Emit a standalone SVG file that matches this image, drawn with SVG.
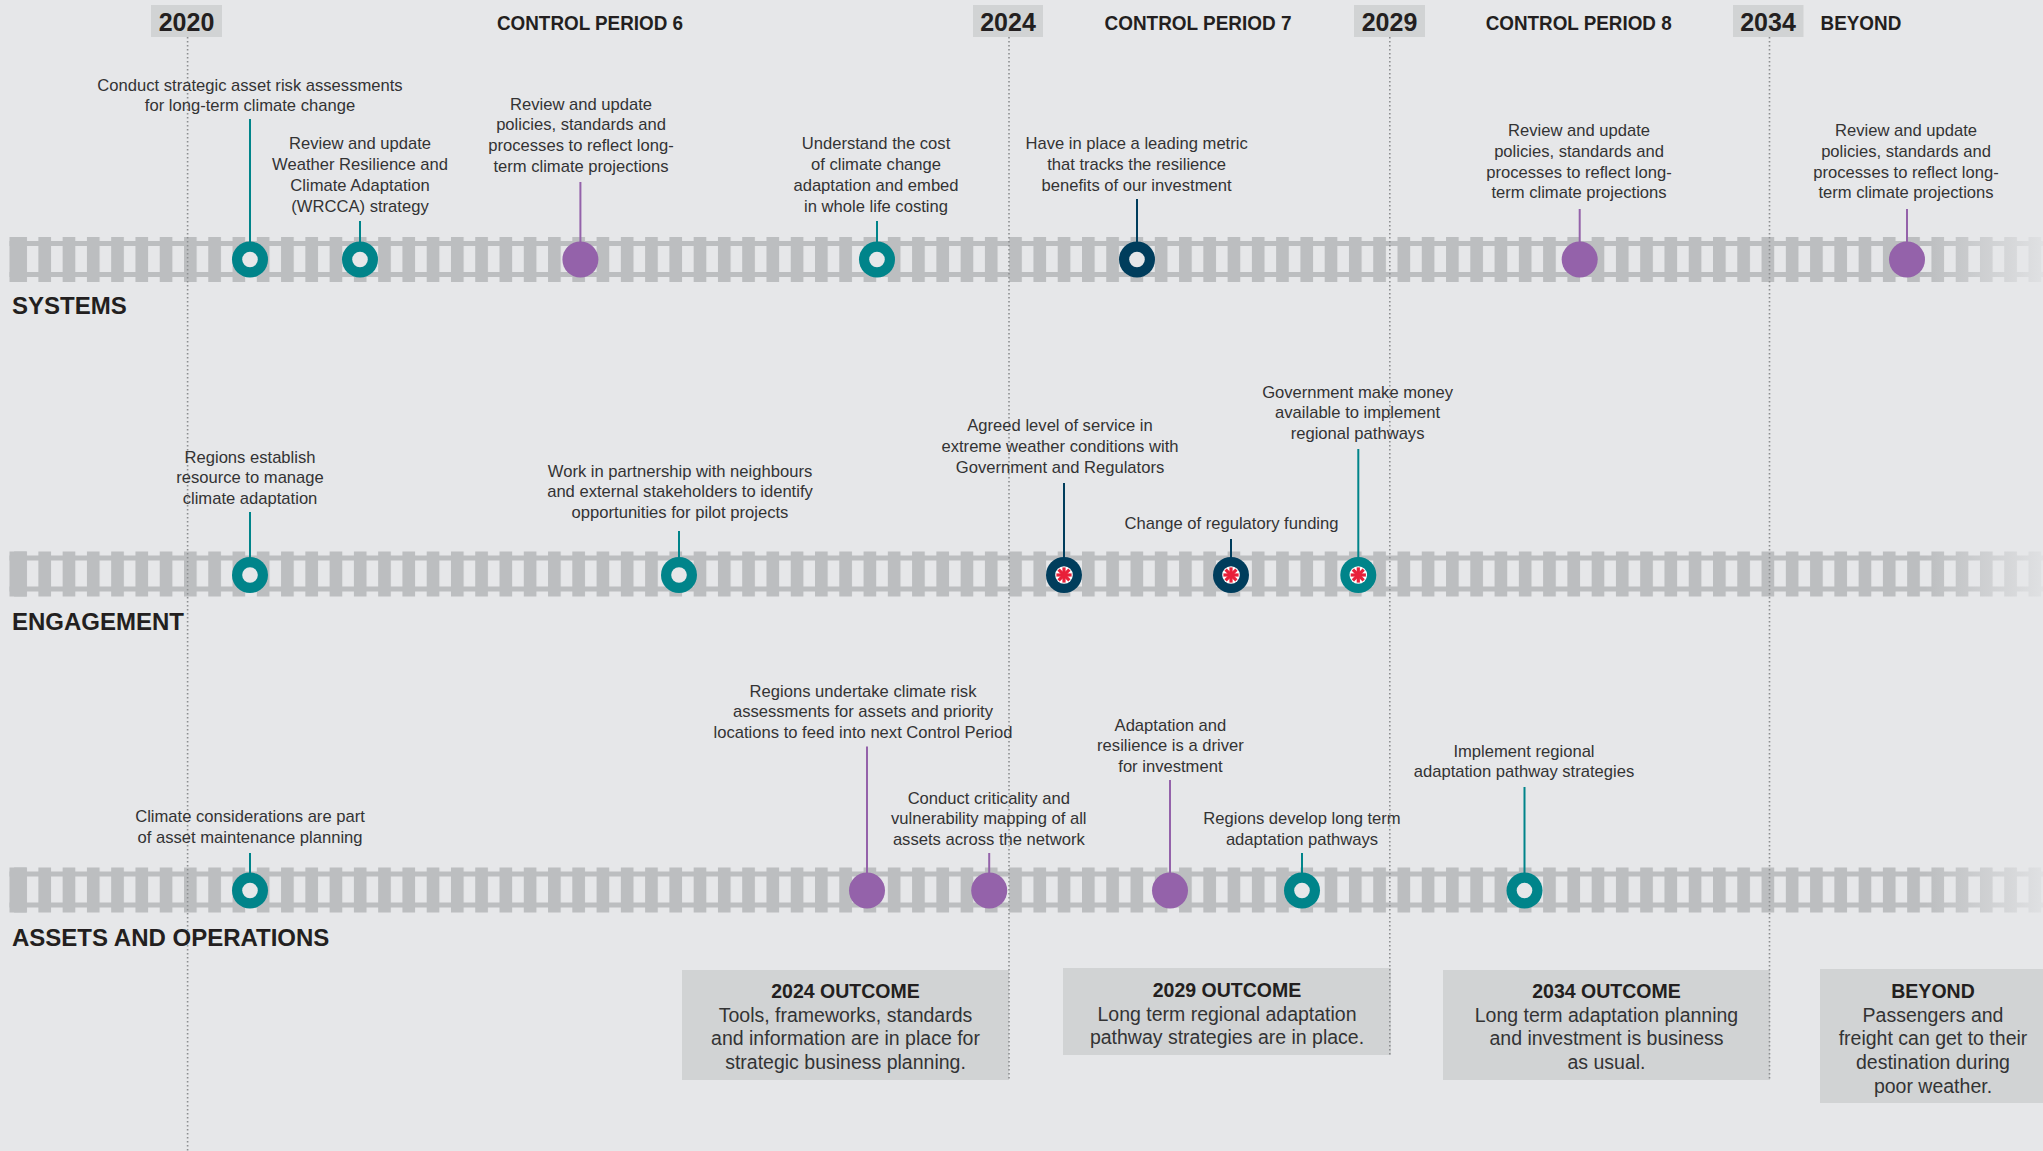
<svg xmlns="http://www.w3.org/2000/svg" xmlns:xlink="http://www.w3.org/1999/xlink" width="2043" height="1151" viewBox="0 0 2043 1151">
<style>
.t{font-family:"Liberation Sans",Arial,sans-serif;font-size:16.6px;fill:#333334;text-anchor:middle}
.hd{font-family:"Liberation Sans",Arial,sans-serif;font-size:20px;font-weight:bold;fill:#231f20}
.yr{font-family:"Liberation Sans",Arial,sans-serif;font-size:25px;font-weight:bold;fill:#231f20;text-anchor:middle}
.yb{fill:#d1d3d4}
.lab{font-family:"Liberation Sans",Arial,sans-serif;font-size:24px;font-weight:bold;fill:#231f20}
.ob{font-family:"Liberation Sans",Arial,sans-serif;font-size:19.5px;fill:#333334;text-anchor:middle}
.obt{font-weight:bold;fill:#231f20}
.dot{stroke:#8c8e90;stroke-width:1.6;stroke-dasharray:1.6 2.4;fill:none}
.rail{fill:#bcbec0}
.st{stroke-width:2;fill:none}
.teal{stroke:#00848a}
.pur{stroke:#9462aa}
.navy{stroke:#003d5c}
</style>
<defs>
<pattern id="ties" x="14.1" y="0" width="24.27" height="1151" patternUnits="userSpaceOnUse">
<rect x="0" y="0" width="12.7" height="1151" fill="#bcbec0"/>
</pattern>
<linearGradient id="fade" x1="1925" y1="0" x2="2043" y2="0" gradientUnits="userSpaceOnUse">
<stop offset="0" stop-color="#e6e7e9" stop-opacity="0"/>
<stop offset="1" stop-color="#e6e7e9" stop-opacity="0.85"/>
</linearGradient>
<g id="ring-teal"><circle r="18" fill="#00848a"/><circle r="7.8" fill="#e6e7e9"/></g>
<g id="ring-navy"><circle r="18" fill="#003d5c"/><circle r="7.8" fill="#e6e7e9"/></g>
<g id="dot-pur"><circle r="18" fill="#9462aa"/></g>
<g id="star"><circle r="8.8" fill="#ffffff"/><g stroke="#e8203a" stroke-width="3.2" stroke-linecap="butt"><line x1="-7.6" y1="0" x2="7.6" y2="0"/><line x1="0" y1="-7.6" x2="0" y2="7.6"/><line x1="-5.4" y1="-5.4" x2="5.4" y2="5.4"/><line x1="-5.4" y1="5.4" x2="5.4" y2="-5.4"/></g></g>
<g id="ast-navy"><circle r="18" fill="#003d5c"/><use xlink:href="#star" href="#star"/></g>
<g id="ast-teal"><circle r="18" fill="#00848a"/><use xlink:href="#star" href="#star"/></g>
</defs>
<rect x="0" y="0" width="2043" height="1151" fill="#e6e7e9"/>

<g id="tracks">
<rect x="9.5" y="237" width="2034" height="45" fill="url(#ties)"/>
<rect class="rail" x="9.5" y="237" width="17.3" height="45"/>
<rect class="rail" x="9.5" y="241" width="2034" height="5"/>
<rect class="rail" x="9.5" y="272" width="2034" height="5"/>
<rect x="9.5" y="551.5" width="2034" height="45" fill="url(#ties)"/>
<rect class="rail" x="9.5" y="551.5" width="17.3" height="45"/>
<rect class="rail" x="9.5" y="555.5" width="2034" height="5"/>
<rect class="rail" x="9.5" y="586.5" width="2034" height="5"/>
<rect x="9.5" y="867.5" width="2034" height="45" fill="url(#ties)"/>
<rect class="rail" x="9.5" y="867.5" width="17.3" height="45"/>
<rect class="rail" x="9.5" y="871.5" width="2034" height="5"/>
<rect class="rail" x="9.5" y="902.5" width="2034" height="5"/>
<rect x="1925" y="236" width="118" height="47" fill="url(#fade)"/>
<rect x="1925" y="550.5" width="118" height="47" fill="url(#fade)"/>
<rect x="1925" y="866.5" width="118" height="47" fill="url(#fade)"/>
</g>

<g id="outcomes">
<g id="outcome-2024">
<rect class="yb" x="682" y="970" width="327" height="110"/>
<text class="ob"><tspan class="obt" x="845.5" y="998">2024 OUTCOME</tspan><tspan x="845.5" y="1021.5">Tools, frameworks, standards</tspan><tspan x="845.5" y="1045">and information are in place for</tspan><tspan x="845.5" y="1069">strategic business planning.</tspan></text>
</g>
<g id="outcome-2029">
<rect class="yb" x="1063" y="968" width="328" height="87"/>
<text class="ob"><tspan class="obt" x="1227" y="997">2029 OUTCOME</tspan><tspan x="1227" y="1020.5">Long term regional adaptation</tspan><tspan x="1227" y="1044">pathway strategies are in place.</tspan></text>
</g>
<g id="outcome-2034">
<rect class="yb" x="1443" y="970" width="327" height="110"/>
<text class="ob"><tspan class="obt" x="1606.5" y="998">2034 OUTCOME</tspan><tspan x="1606.5" y="1021.5">Long term adaptation planning</tspan><tspan x="1606.5" y="1045">and investment is business</tspan><tspan x="1606.5" y="1069">as usual.</tspan></text>
</g>
<g id="outcome-beyond">
<rect class="yb" x="1820" y="969" width="223" height="134"/>
<text class="ob"><tspan class="obt" x="1933" y="998">BEYOND</tspan><tspan x="1933" y="1021.5">Passengers and</tspan><tspan x="1933" y="1045">freight can get to their</tspan><tspan x="1933" y="1069">destination during</tspan><tspan x="1933" y="1092.5">poor weather.</tspan></text>
</g>
</g>

<g id="timeline">
<line class="dot" x1="187.6" y1="37" x2="187.6" y2="1151"/>
<line class="dot" x1="1009" y1="37" x2="1009" y2="1080"/>
<line class="dot" x1="1389.8" y1="37" x2="1389.8" y2="1055"/>
<line class="dot" x1="1769.5" y1="37" x2="1769.5" y2="1080"/>
<rect class="yb" x="151" y="5" width="71" height="32"/>
<text class="yr" x="186.5" y="30.5">2020</text>
<rect class="yb" x="973" y="5" width="70" height="32"/>
<text class="yr" x="1008" y="30.5">2024</text>
<rect class="yb" x="1354" y="5" width="71" height="32"/>
<text class="yr" x="1389.5" y="30.5">2029</text>
<rect class="yb" x="1733" y="5" width="70.5" height="32"/>
<text class="yr" x="1768" y="30.5">2034</text>
<text class="hd" x="497" y="29.5" textLength="186" lengthAdjust="spacingAndGlyphs">CONTROL PERIOD 6</text>
<text class="hd" x="1104.5" y="29.5" textLength="187" lengthAdjust="spacingAndGlyphs">CONTROL PERIOD 7</text>
<text class="hd" x="1485.7" y="29.5" textLength="186" lengthAdjust="spacingAndGlyphs">CONTROL PERIOD 8</text>
<text class="hd" x="1820.6" y="29.5" textLength="80.7" lengthAdjust="spacingAndGlyphs">BEYOND</text>
<text class="lab" x="12" y="314">SYSTEMS</text>
<text class="lab" x="12" y="630">ENGAGEMENT</text>
<text class="lab" x="12" y="946">ASSETS AND OPERATIONS</text>
</g>

<g id="connectors">
<line class="st teal" x1="250" y1="119" x2="250" y2="243"/>
<line class="st teal" x1="360" y1="221" x2="360" y2="243"/>
<line class="st pur" x1="580.4" y1="182" x2="580.4" y2="243"/>
<line class="st teal" x1="877" y1="221" x2="877" y2="243"/>
<line class="st navy" x1="1137" y1="199" x2="1137" y2="243"/>
<line class="st pur" x1="1579.7" y1="209" x2="1579.7" y2="243"/>
<line class="st pur" x1="1907" y1="209" x2="1907" y2="243"/>
<line class="st teal" x1="250" y1="512" x2="250" y2="559"/>
<line class="st teal" x1="679" y1="531" x2="679" y2="559"/>
<line class="st navy" x1="1064" y1="483" x2="1064" y2="559"/>
<line class="st navy" x1="1231" y1="539" x2="1231" y2="559"/>
<line class="st teal" x1="1358.3" y1="449" x2="1358.3" y2="559"/>
<line class="st teal" x1="250" y1="853" x2="250" y2="874"/>
<line class="st pur" x1="867" y1="746.5" x2="867" y2="874"/>
<line class="st pur" x1="989.2" y1="853" x2="989.2" y2="874"/>
<line class="st pur" x1="1170" y1="780" x2="1170" y2="874"/>
<line class="st teal" x1="1302" y1="853" x2="1302" y2="874"/>
<line class="st teal" x1="1524.5" y1="787" x2="1524.5" y2="874"/>
</g>

<g id="s1"><use href="#ring-teal" xlink:href="#ring-teal" x="250" y="259.5"/>
<text class="t"><tspan x="250" y="90.5">Conduct strategic asset risk assessments</tspan><tspan x="250" y="111.3">for long-term climate change</tspan></text></g>
<g id="s2"><use href="#ring-teal" xlink:href="#ring-teal" x="360" y="259.5"/>
<text class="t"><tspan x="360" y="149">Review and update</tspan><tspan x="360" y="170">Weather Resilience and</tspan><tspan x="360" y="191">Climate Adaptation</tspan><tspan x="360" y="212">(WRCCA) strategy</tspan></text></g>
<g id="s3"><use href="#dot-pur" xlink:href="#dot-pur" x="580.4" y="259.5"/>
<text class="t"><tspan x="581" y="109.5">Review and update</tspan><tspan x="581" y="130.3">policies, standards and</tspan><tspan x="581" y="151">processes to reflect long-</tspan><tspan x="581" y="172">term climate projections</tspan></text></g>
<g id="s4"><use href="#ring-teal" xlink:href="#ring-teal" x="877" y="259.5"/>
<text class="t"><tspan x="876" y="149">Understand the cost</tspan><tspan x="876" y="170">of climate change</tspan><tspan x="876" y="191">adaptation and embed</tspan><tspan x="876" y="212">in whole life costing</tspan></text></g>
<g id="s5"><use href="#ring-navy" xlink:href="#ring-navy" x="1137" y="259.5"/>
<text class="t"><tspan x="1136.6" y="149">Have in place a leading metric</tspan><tspan x="1136.6" y="170">that tracks the resilience</tspan><tspan x="1136.6" y="191">benefits of our investment</tspan></text></g>
<g id="s6"><use href="#dot-pur" xlink:href="#dot-pur" x="1579.7" y="259.5"/>
<text class="t"><tspan x="1579" y="136">Review and update</tspan><tspan x="1579" y="156.8">policies, standards and</tspan><tspan x="1579" y="177.6">processes to reflect long-</tspan><tspan x="1579" y="198.4">term climate projections</tspan></text></g>
<g id="s7"><use href="#dot-pur" xlink:href="#dot-pur" x="1907" y="259.5"/>
<text class="t"><tspan x="1906" y="136">Review and update</tspan><tspan x="1906" y="156.8">policies, standards and</tspan><tspan x="1906" y="177.6">processes to reflect long-</tspan><tspan x="1906" y="198.4">term climate projections</tspan></text></g>

<g id="e1"><use href="#ring-teal" xlink:href="#ring-teal" x="250" y="575"/>
<text class="t"><tspan x="250" y="462.5">Regions establish</tspan><tspan x="250" y="483.3">resource to manage</tspan><tspan x="250" y="504">climate adaptation</tspan></text></g>
<g id="e2"><use href="#ring-teal" xlink:href="#ring-teal" x="679" y="575"/>
<text class="t"><tspan x="680" y="476.5">Work in partnership with neighbours</tspan><tspan x="680" y="497.3">and external stakeholders to identify</tspan><tspan x="680" y="518">opportunities for pilot projects</tspan></text></g>
<g id="e3"><use href="#ast-navy" xlink:href="#ast-navy" x="1064" y="575"/>
<text class="t"><tspan x="1060" y="431">Agreed level of service in</tspan><tspan x="1060" y="452">extreme weather conditions with</tspan><tspan x="1060" y="473">Government and Regulators</tspan></text></g>
<g id="e4"><use href="#ast-navy" xlink:href="#ast-navy" x="1231" y="575"/>
<text class="t"><tspan x="1231.5" y="528.5">Change of regulatory funding</tspan></text></g>
<g id="e5"><use href="#ast-teal" xlink:href="#ast-teal" x="1358.3" y="575"/>
<text class="t"><tspan x="1357.6" y="397.5">Government make money</tspan><tspan x="1357.6" y="418.3">available to implement</tspan><tspan x="1357.6" y="439">regional pathways</tspan></text></g>

<g id="a1"><use href="#ring-teal" xlink:href="#ring-teal" x="250" y="890.5"/>
<text class="t"><tspan x="250" y="822">Climate considerations are part</tspan><tspan x="250" y="843">of asset maintenance planning</tspan></text></g>
<g id="a2"><use href="#dot-pur" xlink:href="#dot-pur" x="867" y="890.5"/>
<text class="t"><tspan x="863" y="696.5">Regions undertake climate risk</tspan><tspan x="863" y="717.3">assessments for assets and priority</tspan><tspan x="863" y="738">locations to feed into next Control Period</tspan></text></g>
<g id="a3"><use href="#dot-pur" xlink:href="#dot-pur" x="989.2" y="890.5"/>
<text class="t"><tspan x="988.8" y="803.5">Conduct criticality and</tspan><tspan x="988.8" y="824.3">vulnerability mapping of all</tspan><tspan x="988.8" y="845">assets across the network</tspan></text></g>
<g id="a4"><use href="#dot-pur" xlink:href="#dot-pur" x="1170" y="890.5"/>
<text class="t"><tspan x="1170.4" y="730.5">Adaptation and</tspan><tspan x="1170.4" y="751.3">resilience is a driver</tspan><tspan x="1170.4" y="772">for investment</tspan></text></g>
<g id="a5"><use href="#ring-teal" xlink:href="#ring-teal" x="1302" y="890.5"/>
<text class="t"><tspan x="1302" y="824.3">Regions develop long term</tspan><tspan x="1302" y="845">adaptation pathways</tspan></text></g>
<g id="a6"><use href="#ring-teal" xlink:href="#ring-teal" x="1524.5" y="890.5"/>
<text class="t"><tspan x="1524" y="756.5">Implement regional</tspan><tspan x="1524" y="777.3">adaptation pathway strategies</tspan></text></g>
</svg>
